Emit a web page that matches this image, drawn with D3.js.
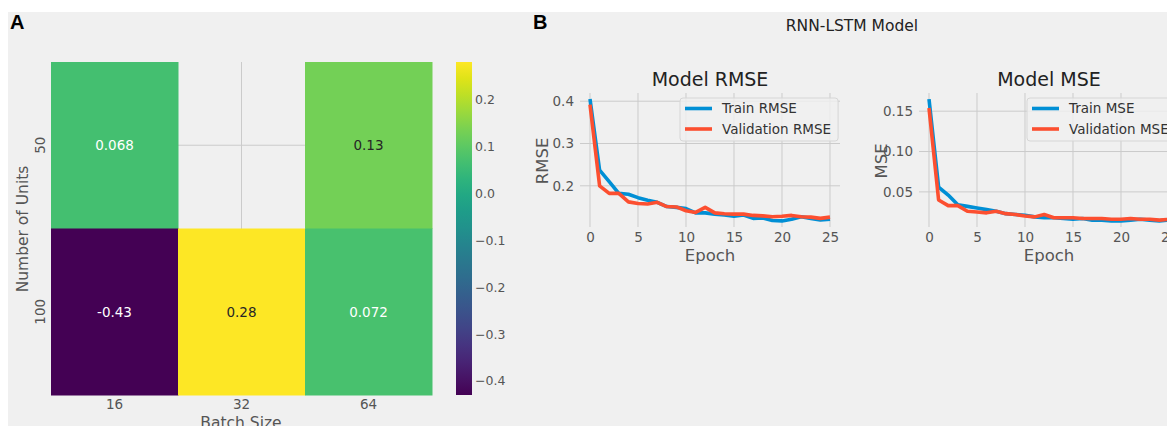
<!DOCTYPE html>
<html>
<head>
<meta charset="utf-8">
<script src="https://cdn.jsdelivr.net/npm/d3@7"></script>
<style>
  html, body { margin: 0; padding: 0; background: #fff; }
  svg { display: block; font-family: "DejaVu Sans", sans-serif; }
</style>
</head>
<body>
<svg id="fig" width="1167" height="426"></svg>
<script>
// ─── DONNÉES : HEATMAP ──────────────────────────────────────────────────────
const batchSizes = ["16", "32", "64"];
const unitCounts = ["50", "100"];
const heatValues = [
    [0.068, null, 0.13],
    [-0.43, 0.28, 0.072]
];
const colorbarTicks = [-0.4, -0.3, -0.2, -0.1, 0.0, 0.1, 0.2];

// ─── DONNÉES : COURBES D'APPRENTISSAGE ──────────────────────────────────────
const epochs = d3.range(26);
const trainRmse = [0.405, 0.237, 0.210, 0.182, 0.180, 0.172, 0.166, 0.161, 0.151, 0.149,
                   0.146, 0.136, 0.136, 0.133, 0.131, 0.128, 0.131, 0.123, 0.124, 0.118,
                   0.117, 0.121, 0.127, 0.123, 0.119, 0.121];
const valRmse   = [0.392, 0.200, 0.182, 0.182, 0.162, 0.158, 0.157, 0.161, 0.151, 0.150,
                   0.141, 0.137, 0.149, 0.136, 0.134, 0.133, 0.133, 0.130, 0.129, 0.127,
                   0.128, 0.130, 0.127, 0.126, 0.123, 0.126];
const trainMse  = [0.165, 0.056, 0.046, 0.034, 0.032, 0.030, 0.028, 0.026, 0.023, 0.022,
                   0.021, 0.019, 0.018, 0.018, 0.017, 0.016, 0.017, 0.015, 0.015, 0.014,
                   0.014, 0.015, 0.016, 0.015, 0.014, 0.015];
const valMse    = [0.154, 0.040, 0.033, 0.033, 0.026, 0.025, 0.024, 0.026, 0.023, 0.022,
                   0.020, 0.019, 0.022, 0.018, 0.018, 0.018, 0.017, 0.017, 0.017, 0.016,
                   0.016, 0.017, 0.016, 0.016, 0.015, 0.016];
const epochTicks = [0, 5, 10, 15, 20, 25];
const rmseTicks = [0.2, 0.3, 0.4];
const mseTicks = [0.05, 0.10, 0.15];

// ─── STYLE ──────────────────────────────────────────────────────────────────
const BG = "#f0f0f0";
const GRID = "#cbcbcb";
const TICK = "#555";
const BLUE = "#008fd5";
const RED = "#fc4f30";

const svg = d3.select("#fig");
svg.append("rect").attr("x", 8).attr("y", 12).attr("width", 1159).attr("height", 414).attr("fill", BG);

// étiquettes de panneau
svg.append("text").attr("x", 10).attr("y", 29).text("A")
    .style("font-family", "'Liberation Sans', Arial, sans-serif").style("font-weight", "bold").style("font-size", "20px");
svg.append("text").attr("x", 533).attr("y", 29).text("B")
    .style("font-family", "'Liberation Sans', Arial, sans-serif").style("font-weight", "bold").style("font-size", "20px");

// ─── PANNEAU A : HEATMAP ────────────────────────────────────────────────────
const hm = { left: 51, right: 432, top: 62, bottom: 395 };
const flat = heatValues.flat().filter(v => v !== null);
const vmin = d3.min(flat), vmax = d3.max(flat);
const color = d3.scaleSequential(d3.interpolateViridis).domain([vmin, vmax]);

const xh = d3.scaleBand().domain(batchSizes).range([hm.left, hm.right]);
const yh = d3.scaleBand().domain(unitCounts).range([hm.top, hm.bottom]);

const gh = svg.append("g");

// grille (visible seulement dans la cellule vide)
gh.selectAll(".vgrid").data(batchSizes).enter().append("line")
    .attr("x1", d => xh(d) + xh.bandwidth() / 2).attr("x2", d => xh(d) + xh.bandwidth() / 2)
    .attr("y1", hm.top).attr("y2", hm.bottom).attr("stroke", GRID);
gh.selectAll(".hgrid").data(unitCounts).enter().append("line")
    .attr("y1", d => yh(d) + yh.bandwidth() / 2).attr("y2", d => yh(d) + yh.bandwidth() / 2)
    .attr("x1", hm.left).attr("x2", hm.right).attr("stroke", GRID);

const cells = [];
heatValues.forEach((row, i) => row.forEach((v, j) => {
    if (v !== null) cells.push({ units: unitCounts[i], batch: batchSizes[j], value: v });
}));

function textColorFor(c) {
    // luminance relative façon seaborn
    const rgb = d3.rgb(c);
    const lin = x => { x /= 255; return x <= 0.03928 ? x / 12.92 : Math.pow((x + 0.055) / 1.055, 2.4); };
    const lum = 0.2126 * lin(rgb.r) + 0.7152 * lin(rgb.g) + 0.0722 * lin(rgb.b);
    return lum > 0.408 ? "#262626" : "#ffffff";
}

gh.selectAll(".cell").data(cells).enter().append("rect")
    .attr("x", d => xh(d.batch)).attr("y", d => yh(d.units))
    .attr("width", xh.bandwidth() + 0.5).attr("height", yh.bandwidth() + 0.5)
    .attr("fill", d => color(d.value));

gh.selectAll(".annot").data(cells).enter().append("text")
    .attr("x", d => xh(d.batch) + xh.bandwidth() / 2)
    .attr("y", d => yh(d.units) + yh.bandwidth() / 2)
    .attr("dy", "0.36em").attr("text-anchor", "middle")
    .style("font-size", "13.5px")
    .attr("fill", d => textColorFor(color(d.value)))
    .text(d => String(d.value));

gh.selectAll(".xtick").data(batchSizes).enter().append("text")
    .attr("x", d => xh(d) + xh.bandwidth() / 2).attr("y", 409)
    .attr("text-anchor", "middle").attr("fill", TICK).style("font-size", "13.5px").text(d => d);
gh.append("text").attr("x", 241).attr("y", 428).attr("text-anchor", "middle")
    .attr("fill", TICK).style("font-size", "15.5px").text("Batch Size");

gh.selectAll(".ytick").data(unitCounts).enter().append("text")
    .attr("transform", d => `translate(45,${yh(d) + yh.bandwidth() / 2}) rotate(-90)`)
    .attr("text-anchor", "middle").attr("fill", TICK).style("font-size", "13.5px").text(d => d);
gh.append("text").attr("transform", "translate(27.5,229) rotate(-90)").attr("text-anchor", "middle")
    .attr("fill", TICK).style("font-size", "15.5px").text("Number of Units");

// barre de couleur
const cb = { left: 456, width: 16 };
const ycb = d3.scaleLinear().domain([vmin, vmax]).range([hm.bottom, hm.top]);
const grad = svg.append("defs").append("linearGradient").attr("id", "viridisGrad")
    .attr("x1", "0%").attr("x2", "0%").attr("y1", "100%").attr("y2", "0%");
d3.range(0, 1.0001, 0.05).forEach(t => {
    grad.append("stop").attr("offset", (t * 100) + "%").attr("stop-color", d3.interpolateViridis(t));
});
svg.append("rect").attr("x", cb.left).attr("y", hm.top).attr("width", cb.width)
    .attr("height", hm.bottom - hm.top).attr("fill", "url(#viridisGrad)");
svg.selectAll(".cbtick").data(colorbarTicks).enter().append("text")
    .attr("x", cb.left + cb.width + 3).attr("y", d => ycb(d)).attr("dy", "0.36em")
    .attr("fill", TICK).style("font-size", "12.5px")
    .text(d => d3.format(".1f")(d).replace("-", "\u2212"));

// ─── PANNEAU B : COURBES ────────────────────────────────────────────────────
svg.append("text").attr("x", 852).attr("y", 31).attr("text-anchor", "middle")
    .attr("fill", "#222").style("font-size", "15.5px").text("RNN-LSTM Model");

function drawLinePanel(opt) {
    const top = 93, bottom = 227;
    const g = svg.append("g");
    const all = opt.train.concat(opt.val);
    const lo = d3.min(all), hi = d3.max(all), pad = (hi - lo) * 0.05;
    const x = d3.scaleLinear().domain([-1.25, 26.25]).range([opt.left, opt.left + 264]);
    const y = d3.scaleLinear().domain([lo - pad, hi + pad]).range([bottom, top]);

    // grille
    g.selectAll(".gx").data(epochTicks).enter().append("line")
        .attr("x1", d => x(d)).attr("x2", d => x(d)).attr("y1", top).attr("y2", bottom)
        .attr("stroke", GRID);
    g.selectAll(".gy").data(opt.yTicks).enter().append("line")
        .attr("x1", opt.left + 2).attr("x2", opt.left + 262).attr("y1", d => y(d)).attr("y2", d => y(d))
        .attr("stroke", GRID);

    // axes (texte seulement, style fivethirtyeight)
    g.append("g").attr("transform", `translate(0,${bottom})`)
        .call(d3.axisBottom(x).tickValues(epochTicks).tickSize(0).tickPadding(5).tickFormat(d3.format("d")))
        .call(a => a.select(".domain").remove())
        .call(a => a.selectAll("text").attr("fill", TICK).style("font-size", "13.5px")
            .style("font-family", "'DejaVu Sans', sans-serif"));
    g.append("g").attr("transform", `translate(${opt.left},0)`)
        .call(d3.axisLeft(y).tickValues(opt.yTicks).tickSize(0).tickPadding(4).tickFormat(d3.format(opt.fmt)))
        .call(a => a.select(".domain").remove())
        .call(a => a.selectAll("text").attr("fill", TICK).style("font-size", "13.5px")
            .style("font-family", "'DejaVu Sans', sans-serif"));

    // courbes
    const line = d3.line().x((d, i) => x(epochs[i])).y(d => y(d));
    [[opt.train, BLUE], [opt.val, RED]].forEach(([s, c]) => {
        g.append("path").datum(s).attr("d", line).attr("fill", "none")
            .attr("stroke", c).attr("stroke-width", 3.6).attr("stroke-linejoin", "round");
    });

    // titres
    g.append("text").attr("x", opt.left + 132).attr("y", 86).attr("text-anchor", "middle")
        .attr("fill", "#222").style("font-size", "19px").text(opt.title);
    g.append("text").attr("x", opt.left + 132).attr("y", 261).attr("text-anchor", "middle")
        .attr("fill", TICK).style("font-size", "16.5px").text("Epoch");
    g.append("text").attr("transform", `translate(${opt.left - 30},161) rotate(-90)`)
        .attr("text-anchor", "middle").attr("fill", TICK).style("font-size", "16.5px").text(opt.ylabel);

    // légende
    const lg = g.append("g").attr("transform", `translate(${opt.legendX},98)`);
    const box = lg.append("rect").attr("rx", 3).attr("height", 43)
        .attr("fill", BG).attr("fill-opacity", 0.8).attr("stroke", "#d6d6d6");
    let maxW = 0;
    opt.names.forEach((n, i) => {
        lg.append("line").attr("x1", 5).attr("x2", 32).attr("y1", 10.5 + i * 20.5).attr("y2", 10.5 + i * 20.5)
            .attr("stroke", i === 0 ? BLUE : RED).attr("stroke-width", 3.6);
        const t = lg.append("text").attr("x", 42).attr("y", 10.5 + i * 20.5).attr("dy", "0.36em")
            .attr("fill", "#333").style("font-size", "13.5px").text(n);
        maxW = Math.max(maxW, t.node().getComputedTextLength());
    });
    box.attr("width", 42 + maxW + 7);
}

drawLinePanel({ left: 578, train: trainRmse, val: valRmse, yTicks: rmseTicks, fmt: ".1f",
    title: "Model RMSE", ylabel: "RMSE", legendX: 680, names: ["Train RMSE", "Validation RMSE"] });
drawLinePanel({ left: 917, train: trainMse, val: valMse, yTicks: mseTicks, fmt: ".2f",
    title: "Model MSE", ylabel: "MSE", legendX: 1027, names: ["Train MSE", "Validation MSE"] });
</script>
</body>
</html>
